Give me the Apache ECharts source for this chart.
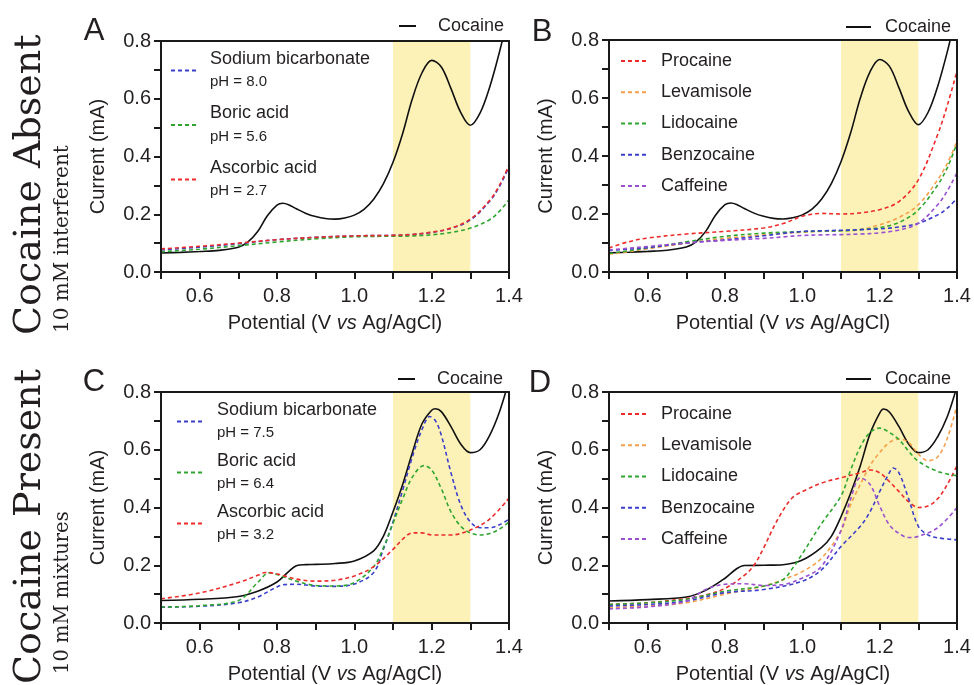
<!DOCTYPE html>
<html><head><meta charset="utf-8">
<script src="https://cdn.jsdelivr.net/npm/echarts@6/dist/echarts.min.js"></script>
<style>html,body{margin:0;padding:0;background:#fff}#c{width:974px;height:685px}</style>
</head><body><div id="c"></div>
<script>
// ---------- DATA ----------
// Panel A/B: cocaine reference (cocaine absent panels)
const xCocAbs = [0.5,0.55,0.6,0.65,0.7,0.725,0.75,0.775,0.8,0.815,0.83,0.85,0.875,0.9,0.925,0.95,0.975,1.0,1.025,1.05,1.075,1.1,1.125,1.15,1.175,1.2,1.225,1.25,1.275,1.3,1.325,1.35,1.375,1.4];
const yCocAbs = [0.066,0.068,0.071,0.075,0.086,0.104,0.14,0.195,0.232,0.238,0.233,0.219,0.203,0.192,0.185,0.183,0.187,0.197,0.217,0.252,0.305,0.38,0.48,0.6,0.69,0.733,0.71,0.635,0.553,0.508,0.55,0.64,0.76,0.9];
// Panel A: buffers
const xA = [0.5,0.6,0.7,0.8,0.9,1.0,1.1,1.15,1.2,1.25,1.3,1.35,1.375,1.4];
const yA_bicarb = [0.076,0.086,0.098,0.112,0.12,0.125,0.127,0.13,0.137,0.151,0.18,0.245,0.295,0.365];
const yA_boric  = [0.07,0.079,0.091,0.104,0.115,0.122,0.124,0.125,0.129,0.137,0.152,0.181,0.21,0.25];
const yA_ascorb = [0.08,0.089,0.1,0.112,0.12,0.125,0.127,0.13,0.138,0.152,0.183,0.248,0.3,0.37];
// Panel B: interferents
const xB = [0.5,0.55,0.6,0.7,0.8,0.9,0.95,1.0,1.05,1.1,1.15,1.2,1.25,1.3,1.35,1.375,1.4];
const yB_procaine   = [0.083,0.104,0.117,0.131,0.14,0.152,0.167,0.192,0.202,0.2,0.204,0.215,0.243,0.318,0.474,0.575,0.693];
const yB_levamisole = [0.061,0.07,0.08,0.099,0.116,0.128,0.133,0.137,0.14,0.142,0.146,0.163,0.188,0.232,0.318,0.375,0.45];
const yB_lidocaine  = [0.064,0.073,0.083,0.104,0.123,0.134,0.137,0.139,0.141,0.142,0.146,0.153,0.171,0.214,0.3,0.36,0.444];
const yB_benzocaine = [0.074,0.079,0.084,0.1,0.111,0.125,0.133,0.14,0.142,0.144,0.146,0.149,0.155,0.168,0.197,0.22,0.254];
const yB_caffeine   = [0.076,0.082,0.088,0.1,0.109,0.116,0.121,0.126,0.128,0.129,0.131,0.135,0.145,0.168,0.232,0.28,0.342];
// Panel C
const xC_coc = [0.5,0.6,0.7,0.75,0.8,0.83,0.85,0.875,0.9,0.95,1.0,1.05,1.075,1.1,1.125,1.15,1.175,1.2,1.21,1.225,1.25,1.275,1.3,1.325,1.35,1.375,1.4];
const yC_coc = [0.078,0.082,0.092,0.11,0.142,0.178,0.198,0.202,0.203,0.206,0.215,0.25,0.3,0.385,0.48,0.59,0.69,0.737,0.742,0.732,0.68,0.62,0.59,0.6,0.65,0.73,0.84];
const xC_bicarb = [0.5,0.6,0.7,0.75,0.8,0.82,0.85,0.9,0.95,1.0,1.05,1.075,1.1,1.125,1.15,1.175,1.195,1.21,1.225,1.25,1.275,1.3,1.325,1.35,1.375,1.4];
const yC_bicarb = [0.055,0.058,0.07,0.09,0.125,0.133,0.134,0.128,0.127,0.135,0.175,0.255,0.35,0.46,0.575,0.67,0.715,0.7,0.65,0.52,0.41,0.35,0.33,0.33,0.34,0.36];
const xC_boric = [0.5,0.6,0.7,0.75,0.78,0.8,0.85,0.9,0.95,1.0,1.05,1.075,1.1,1.125,1.15,1.18,1.2,1.225,1.25,1.275,1.3,1.325,1.35,1.375,1.4];
const yC_boric = [0.055,0.06,0.078,0.14,0.174,0.168,0.145,0.13,0.128,0.14,0.195,0.26,0.345,0.43,0.505,0.545,0.53,0.465,0.385,0.335,0.312,0.305,0.31,0.325,0.35];
const xC_ascorb = [0.5,0.6,0.7,0.75,0.77,0.8,0.85,0.9,0.95,1.0,1.05,1.1,1.125,1.15,1.175,1.2,1.25,1.3,1.35,1.4];
const yC_ascorb = [0.084,0.104,0.14,0.165,0.175,0.17,0.152,0.145,0.148,0.163,0.195,0.255,0.29,0.312,0.312,0.305,0.305,0.322,0.36,0.433];
// Panel D
const xD_coc = [0.5,0.6,0.7,0.75,0.8,0.83,0.85,0.9,0.95,1.0,1.05,1.075,1.1,1.125,1.15,1.175,1.2,1.21,1.225,1.25,1.275,1.3,1.325,1.35,1.375,1.4];
const yD_coc = [0.076,0.081,0.09,0.113,0.155,0.188,0.199,0.2,0.202,0.218,0.262,0.3,0.368,0.45,0.545,0.655,0.727,0.741,0.731,0.68,0.62,0.59,0.6,0.645,0.715,0.82];
const xD_procaine = [0.5,0.6,0.7,0.75,0.8,0.85,0.875,0.9,0.925,0.95,0.975,1.0,1.05,1.1,1.15,1.175,1.2,1.225,1.25,1.275,1.3,1.325,1.35,1.375,1.4];
const yD_procaine = [0.064,0.07,0.085,0.097,0.12,0.165,0.2,0.26,0.33,0.39,0.435,0.455,0.485,0.503,0.52,0.53,0.52,0.49,0.455,0.42,0.4,0.405,0.43,0.48,0.545];
const xD_levamisole = [0.5,0.6,0.7,0.8,0.9,0.95,1.0,1.05,1.1,1.125,1.15,1.175,1.2,1.225,1.25,1.275,1.3,1.325,1.35,1.375,1.4];
const yD_levamisole = [0.053,0.059,0.07,0.1,0.128,0.15,0.178,0.225,0.32,0.41,0.48,0.545,0.59,0.625,0.637,0.625,0.585,0.562,0.575,0.64,0.755];
const xD_lidocaine = [0.5,0.6,0.7,0.8,0.9,0.95,0.975,1.0,1.05,1.1,1.125,1.15,1.175,1.2,1.225,1.25,1.275,1.3,1.35,1.4];
const yD_lidocaine = [0.064,0.07,0.082,0.11,0.128,0.15,0.19,0.24,0.345,0.44,0.53,0.61,0.66,0.675,0.66,0.635,0.595,0.56,0.525,0.51];
const xD_benzocaine = [0.5,0.6,0.7,0.8,0.9,1.0,1.05,1.1,1.15,1.175,1.2,1.225,1.235,1.25,1.275,1.3,1.325,1.35,1.4];
const yD_benzocaine = [0.059,0.064,0.076,0.105,0.116,0.145,0.185,0.265,0.335,0.385,0.455,0.52,0.537,0.52,0.43,0.335,0.305,0.295,0.288];
const xD_caffeine = [0.5,0.6,0.7,0.75,0.8,0.85,0.9,0.95,1.0,1.05,1.1,1.125,1.15,1.175,1.2,1.225,1.25,1.275,1.3,1.35,1.4];
const yD_caffeine = [0.049,0.056,0.076,0.116,0.134,0.136,0.13,0.133,0.156,0.197,0.32,0.43,0.503,0.48,0.405,0.34,0.31,0.296,0.3,0.33,0.4];
// Highlight band and axes
const bandRange = [1.1, 1.3];
const xRange = [0.5, 1.4];
const yRange = [0, 0.8];
const panelLetters = ['A','B','C','D'];

// ---------- STYLE ----------
const SANS = "'Liberation Sans', Arial, sans-serif";
const SERIF = "'DejaVu Serif', serif";
const TXT = '#231f20';
const AX = '#1a1a1a';
const C = {black:'#111111', red:'#ee2b2b', orange:'#f7a04a', green:'#2ea52e', blue:'#3b3fc9', purple:'#9b50cf'};
const grids = [
  {left:161, top:41, width:348, height:231},
  {left:609, top:40, width:348, height:232},
  {left:161, top:392, width:348, height:232},
  {left:609, top:392, width:348, height:232}
];
const zip = (xs, ys) => xs.map((x, i) => [x, ys[i]]);

const panels = [
  [['Cocaine', xCocAbs, yCocAbs, C.black, 'solid'],
   ['Sodium bicarbonate|pH = 8.0', xA, yA_bicarb, C.blue, 'dashed'],
   ['Boric acid|pH = 5.6', xA, yA_boric, C.green, 'dashed'],
   ['Ascorbic acid|pH = 2.7', xA, yA_ascorb, C.red, 'dashed']],
  [['Cocaine', xCocAbs, yCocAbs, C.black, 'solid'],
   ['Procaine', xB, yB_procaine, C.red, 'dashed'],
   ['Levamisole', xB, yB_levamisole, C.orange, 'dashed'],
   ['Lidocaine', xB, yB_lidocaine, C.green, 'dashed'],
   ['Benzocaine', xB, yB_benzocaine, C.blue, 'dashed'],
   ['Caffeine', xB, yB_caffeine, C.purple, 'dashed']],
  [['Cocaine', xC_coc, yC_coc, C.black, 'solid'],
   ['Sodium bicarbonate|pH = 7.5', xC_bicarb, yC_bicarb, C.blue, 'dashed'],
   ['Boric acid|pH = 6.4', xC_boric, yC_boric, C.green, 'dashed'],
   ['Ascorbic acid|pH = 3.2', xC_ascorb, yC_ascorb, C.red, 'dashed']],
  [['Cocaine', xD_coc, yD_coc, C.black, 'solid'],
   ['Procaine', xD_procaine, yD_procaine, C.red, 'dashed'],
   ['Levamisole', xD_levamisole, yD_levamisole, C.orange, 'dashed'],
   ['Lidocaine', xD_lidocaine, yD_lidocaine, C.green, 'dashed'],
   ['Benzocaine', xD_benzocaine, yD_benzocaine, C.blue, 'dashed'],
   ['Caffeine', xD_caffeine, yD_caffeine, C.purple, 'dashed']]
];

const xAxes = [], yAxes = [], series = [];
grids.forEach((g, i) => {
  xAxes.push({
    gridIndex:i, type:'value', min:xRange[0], max:xRange[1], interval:0.1, z:5,
    axisLine:{show:true, onZero:false, lineStyle:{color:AX, width:2}},
    axisTick:{show:true, length:7, lineStyle:{color:AX, width:2}},
    axisLabel:{fontSize:20, color:TXT, fontFamily:SANS, margin:14,
      formatter: v => (Math.round(v*10) % 2 === 0) ? v.toFixed(1) : ''},
    splitLine:{show:false},
    name:'{r|Potential (V }{i|vs}{r| Ag/AgCl)}', nameLocation:'middle', nameGap:41,
    nameTextStyle:{rich:{r:{fontSize:20, color:TXT, fontFamily:SANS}, i:{fontSize:20, color:TXT, fontFamily:SANS, fontStyle:'italic'}}}
  });
  xAxes.push({
    gridIndex:i, type:'value', position:'top', min:xRange[0], max:xRange[1], z:5,
    axisLine:{show:true, onZero:false, lineStyle:{color:AX, width:2}},
    axisTick:{show:false}, axisLabel:{show:false}, splitLine:{show:false}
  });
  yAxes.push({
    gridIndex:i, type:'value', min:yRange[0], max:yRange[1], interval:0.1, z:5,
    axisLine:{show:true, onZero:false, lineStyle:{color:AX, width:2}},
    axisTick:{show:true, length:7, lineStyle:{color:AX, width:2}},
    axisLabel:{fontSize:20, color:TXT, fontFamily:SANS, margin:10,
      formatter: v => (Math.round(v*10) % 2 === 0) ? v.toFixed(1) : ''},
    splitLine:{show:false},
    name:'Current (mA)', nameLocation:'middle', nameGap:53,
    nameTextStyle:{fontSize:20, color:TXT, fontFamily:SANS}
  });
  yAxes.push({
    gridIndex:i, type:'value', position:'right', min:yRange[0], max:yRange[1], z:5,
    axisLine:{show:true, onZero:false, lineStyle:{color:AX, width:2}},
    axisTick:{show:false}, axisLabel:{show:false}, splitLine:{show:false}
  });
  // band
  series.push({
    type:'line', xAxisIndex:2*i, yAxisIndex:2*i, data:[], z:1, silent:true,
    markArea:{silent:true, itemStyle:{color:'#fcf2b8'}, data:[[{xAxis:bandRange[0]},{xAxis:bandRange[1]}]]}
  });
  panels[i].forEach(s => {
    series.push({
      name:s[0], type:'line', xAxisIndex:2*i, yAxisIndex:2*i,
      data: zip(s[1], s[2]), symbol:'none', showSymbol:false, smooth:0.35, z:3,
      clip:true,
      lineStyle:{color:s[3], width: s[4]==='solid' ? 1.6 : 1.6, type: s[4]==='solid' ? 'solid' : [4,3]},
      itemStyle:{color:s[3]}
    });
  });
});

const twoLine = name => {
  const p = name.split('|');
  return p.length > 1 ? '{n|' + p[0] + '}\n{p|' + p[1] + '}' : '{n|' + p[0] + '}';
};
function legendInside(names, left, top, gap, lh, pad) {
  return {
    data:names, orient:'vertical', left:left, top:top, itemWidth:26, itemHeight:10, itemGap:gap,
    padding:0, selectedMode:false, formatter:twoLine,
    itemStyle:{opacity:0, borderWidth:0},
    textStyle:{color:TXT, fontFamily:SANS, rich:{
      n:{fontSize:18, lineHeight:lh, color:TXT, fontFamily:SANS, padding:[0,0,0,pad]},
      p:{fontSize:15, lineHeight:lh, color:TXT, fontFamily:SANS, padding:[0,0,0,pad]}}}
  };
}
function legendCoc(left, top, w, pad) {
  return {
    data:['Cocaine'], orient:'horizontal', left:left, top:top, itemWidth:w, itemHeight:10,
    padding:0, selectedMode:false, formatter:twoLine,
    itemStyle:{opacity:0, borderWidth:0},
    textStyle:{color:TXT, fontFamily:SANS, rich:{n:{fontSize:18, lineHeight:22, color:TXT, fontFamily:SANS, padding:[0,0,0,pad]}}}
  };
}
const legends = [
  legendCoc(398, 17, 17, 17),
  legendCoc(845, 18, 25, 9),
  legendCoc(397, 370, 17, 17),
  legendCoc(845, 370, 25, 9),
  legendInside(panels[0].slice(1).map(s=>s[0]), 170, 50, 15, 23, 8),
  legendInside(panels[1].slice(1).map(s=>s[0]), 620, 52, 13.25, 22, 9),
  legendInside(panels[2].slice(1).map(s=>s[0]), 176, 401, 11.5, 23, 9),
  legendInside(panels[3].slice(1).map(s=>s[0]), 620, 405, 13.25, 22, 9)
];

const letterPos = [[94,31],[542,32],[94,382],[540,383]];
const graphic = letterPos.map((p, i) => ({
  type:'text', x:p[0], y:p[1], silent:true,
  style:{text:panelLetters[i], fontSize:31, fontFamily:SANS, fill:TXT, textAlign:'center', textVerticalAlign:'middle'}
}));
[['Cocaine Absent', 30, 335, 38], ['10 mM interferent', 63, 333, 20],
 ['Cocaine Present', 30, 684, 38], ['10 mM mixtures', 63, 674, 19.5]].forEach(t => {
  graphic.push({type:'text', x:t[1], y:t[2], rotation:Math.PI/2, silent:true,
    style:{text:t[0], fontSize:t[3], fontFamily:SERIF, fill:TXT, textAlign:'left', textVerticalAlign:'middle'}});
});

const chart = echarts.init(document.getElementById('c'), null, {renderer:'canvas'});
chart.setOption({
  animation:false, backgroundColor:'#ffffff',
  grid: grids, xAxis: xAxes, yAxis: yAxes, series: series, legend: legends, graphic: graphic
});
</script></body></html>
